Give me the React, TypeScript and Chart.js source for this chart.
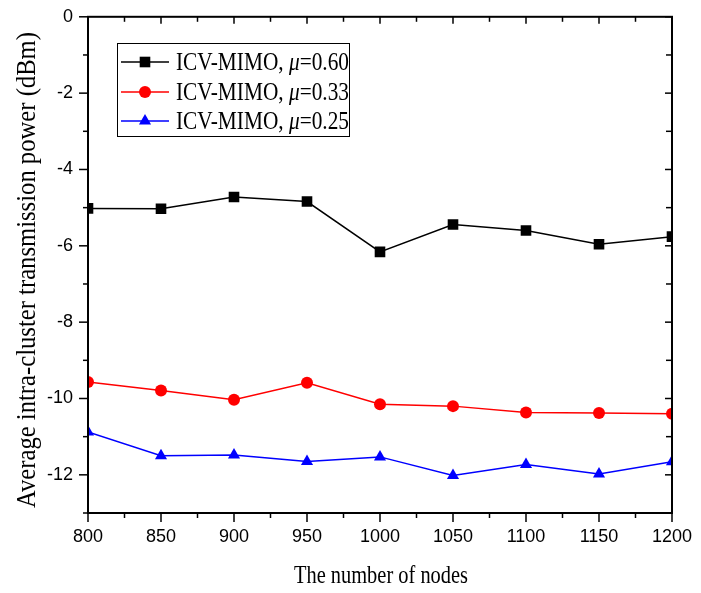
import { useEffect, useRef } from 'react';
import { Chart, registerables } from 'chart.js';

Chart.register(...registerables);

// ---- data ----
const nodes = [800, 850, 900, 950, 1000, 1050, 1100, 1150, 1200];
const mu060 = [-5.02, -5.03, -4.72, -4.84, -6.16, -5.44, -5.6, -5.96, -5.76];
const mu033 = [-9.57, -9.79, -10.03, -9.59, -10.15, -10.2, -10.37, -10.38, -10.4];
const mu025 = [-10.88, -11.5, -11.48, -11.65, -11.53, -12.02, -11.73, -11.98, -11.66];
const muValues = ['0.60', '0.33', '0.25'];
const seriesPrefix = 'ICV-MIMO, ';
const X_TITLE = 'The number of nodes';
const Y_TITLE = 'Average intra-cluster transmission power (dBm)';
const X_MIN = 800;
const X_MAX = 1200;
const X_STEP = 50;
const Y_MIN = -13;
const Y_MAX = 0;
const Y_LABEL_STEP = 2;

const SERIF = "'Liberation Serif', 'Times New Roman', serif";
const SANS = "'Liberation Sans Narrow', 'Liberation Sans', Arial, sans-serif";

type Run = { text: string; italic?: boolean };

function drawRuns(
  ctx: CanvasRenderingContext2D,
  runs: Run[],
  size: number,
  targetWidth: number,
  x: number,
  y: number,
  align: 'left' | 'center'
) {
  const font = (it?: boolean) => `${it ? 'italic ' : ''}${size}px ${SERIF}`;
  let total = 0;
  const widths = runs.map((r) => {
    ctx.font = font(r.italic);
    const w = ctx.measureText(r.text).width;
    total += w;
    return w;
  });
  const s = targetWidth / total;
  ctx.save();
  ctx.translate(x, y);
  ctx.scale(s, 1);
  let cx = align === 'center' ? -total / 2 : 0;
  ctx.textAlign = 'left';
  ctx.textBaseline = 'alphabetic';
  ctx.fillStyle = '#000';
  runs.forEach((r, i) => {
    ctx.font = font(r.italic);
    ctx.fillText(r.text, cx, 0);
    cx += widths[i];
  });
  ctx.restore();
}

function drawMarker(
  ctx: CanvasRenderingContext2D,
  style: string,
  x: number,
  y: number,
  r: number,
  color: string
) {
  ctx.save();
  ctx.fillStyle = color;
  ctx.beginPath();
  if (style === 'rect') {
    const h = Math.SQRT1_2 * r;
    ctx.rect(x - h, y - h, 2 * h, 2 * h);
  } else if (style === 'triangle') {
    let rad = 0;
    ctx.moveTo(x + Math.sin(rad) * r, y - Math.cos(rad) * r);
    rad += (2 * Math.PI) / 3;
    ctx.lineTo(x + Math.sin(rad) * r, y - Math.cos(rad) * r);
    rad += (2 * Math.PI) / 3;
    ctx.lineTo(x + Math.sin(rad) * r, y - Math.cos(rad) * r);
    ctx.closePath();
  } else {
    ctx.arc(x, y, r, 0, Math.PI * 2);
  }
  ctx.fill();
  ctx.restore();
}

const decorPlugin = {
  id: 'decor',
  afterDraw(chart: any) {
    const { ctx, chartArea: a, scales } = chart;
    const xs = scales.x;
    const ys = scales.y;
    ctx.save();
    ctx.strokeStyle = '#000';
    ctx.lineCap = 'butt';

    const line = (x1: number, y1: number, x2: number, y2: number, w: number) => {
      ctx.lineWidth = w;
      ctx.beginPath();
      ctx.moveTo(x1, y1);
      ctx.lineTo(x2, y2);
      ctx.stroke();
    };

    // x ticks (major + minor)
    const xMinor = X_STEP / 2;
    for (let v = xs.min; v <= xs.max + 1e-9; v += xMinor) {
      const px = xs.getPixelForValue(v);
      const major = Math.abs(((v - xs.min) / X_STEP) % 1) < 1e-6;
      line(px, a.bottom, px, a.bottom + (major ? 9 : 5), 1.5);
      line(px, a.top, px, a.top + (major ? 7 : 5), 1.5);
    }
    // y ticks
    for (let v = ys.min; v <= ys.max + 1e-9; v += 1) {
      const py = ys.getPixelForValue(v);
      const major = Math.abs(v % Y_LABEL_STEP) < 1e-6;
      line(a.left - (major ? 9 : 5), py, a.left, py, 1.5);
      line(a.right - (major ? 7 : 6), py, a.right, py, 1.5);
    }
    // frame
    ctx.lineWidth = 2;
    ctx.strokeRect(a.left, a.top, a.right - a.left, a.bottom - a.top);

    // legend
    const lx = 117;
    const ly = 43;
    ctx.lineWidth = 1;
    ctx.strokeRect(lx + 0.5, ly + 0.5, 232, 93);
    const rows = [62, 92, 121];
    chart.data.datasets.forEach((ds: any, i: number) => {
      const ry = rows[i];
      ctx.strokeStyle = ds.borderColor;
      line(121, ry, 169, ry, 1.5);
      drawMarker(ctx, ds.pointStyle, 145, ry, ds.pointRadius, ds.pointBackgroundColor);
      drawRuns(
        ctx,
        [{ text: seriesPrefix }, { text: 'μ', italic: true }, { text: '=' + muValues[i] }],
        26,
        173,
        176,
        ry + 7.5,
        'left'
      );
    });

    // axis titles
    drawRuns(ctx, [{ text: X_TITLE }], 26, 174, (a.left + a.right) / 2 + 1, 583, 'center');
    ctx.save();
    ctx.translate(35, 270);
    ctx.rotate(-Math.PI / 2);
    drawRuns(ctx, [{ text: Y_TITLE }], 27, 476, 0, 0, 'center');
    ctx.restore();

    ctx.restore();
  },
};

export default function App() {
  const ref = useRef<HTMLCanvasElement | null>(null);

  useEffect(() => {
    if (!ref.current) return;
    const mk = (vals: number[]) => nodes.map((n, i) => ({ x: n, y: vals[i] }));
    const chart = new Chart(ref.current, {
      type: 'line',
      data: {
        datasets: [
          {
            label: seriesPrefix + 'μ=' + muValues[0],
            data: mk(mu060),
            borderColor: '#000000',
            backgroundColor: '#000000',
            pointBackgroundColor: '#000000',
            pointBorderWidth: 0,
            pointStyle: 'rect',
            pointRadius: 7.5,
            borderWidth: 1.5,
            tension: 0,
          },
          {
            label: seriesPrefix + 'μ=' + muValues[1],
            data: mk(mu033),
            borderColor: '#ff0000',
            backgroundColor: '#ff0000',
            pointBackgroundColor: '#ff0000',
            pointBorderWidth: 0,
            pointStyle: 'circle',
            pointRadius: 6,
            borderWidth: 1.5,
            tension: 0,
          },
          {
            label: seriesPrefix + 'μ=' + muValues[2],
            data: mk(mu025),
            borderColor: '#0000ff',
            backgroundColor: '#0000ff',
            pointBackgroundColor: '#0000ff',
            pointBorderWidth: 0,
            pointStyle: 'triangle',
            pointRadius: 7,
            borderWidth: 1.5,
            tension: 0,
          },
        ],
      },
      options: {
        animation: false,
        responsive: false,
        maintainAspectRatio: false,
        devicePixelRatio: 1,
        layout: { padding: { left: 0, right: 29, top: 15, bottom: 0 } },
        plugins: {
          legend: { display: false },
          tooltip: { enabled: false },
        },
        scales: {
          x: {
            type: 'linear',
            min: X_MIN,
            max: X_MAX,
            afterFit: (s: any) => {
              s.height = 80;
            },
            border: { display: false },
            grid: {
              display: true,
              drawOnChartArea: false,
              drawTicks: true,
              tickLength: 9,
              color: 'rgba(0,0,0,0)',
            },
            ticks: {
              stepSize: X_STEP,
              autoSkip: false,
              maxRotation: 0,
              padding: 4,
              color: '#000',
              font: { family: SANS, size: 18 },
              callback: (v: any) => String(v),
            },
          },
          y: {
            type: 'linear',
            min: Y_MIN,
            max: Y_MAX,
            afterFit: (s: any) => {
              s.width = 88;
            },
            border: { display: false },
            grid: {
              display: true,
              drawOnChartArea: false,
              drawTicks: true,
              tickLength: 9,
              color: 'rgba(0,0,0,0)',
            },
            ticks: {
              stepSize: 1,
              autoSkip: false,
              padding: 6,
              color: '#000',
              font: { family: SANS, size: 18 },
              callback: (v: any) => (Math.abs(Number(v) % Y_LABEL_STEP) < 1e-6 ? String(v) : ''),
            },
          },
        },
      },
      plugins: [decorPlugin],
    } as any);
    return () => chart.destroy();
  }, []);

  return (
    <div style={{ position: 'fixed', left: 0, top: 0, width: 701, height: 593, background: '#fff' }}>
      <canvas ref={ref} width={701} height={593} style={{ display: 'block' }} />
    </div>
  );
}
